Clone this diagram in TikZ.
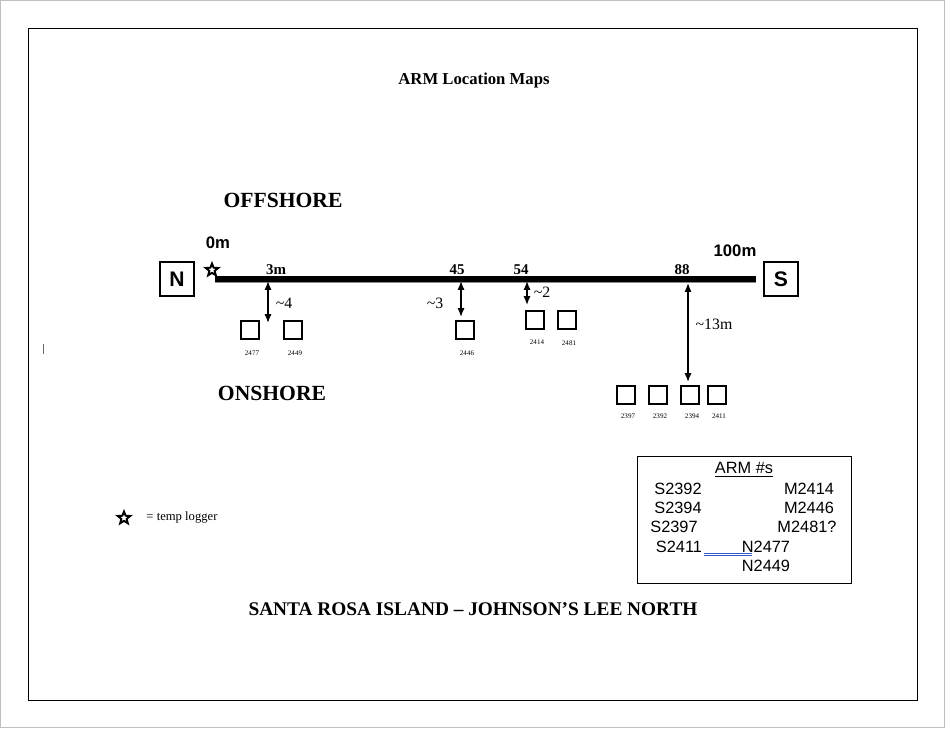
\documentclass[tikz,border=0pt]{standalone}
\usepackage{fontspec}
\setmainfont{Liberation Serif}
\newfontfamily\arial{Liberation Sans}
\usetikzlibrary{arrows.meta, shapes.geometric}
\definecolor{inkblue}{RGB}{50,90,200}

\begin{document}
\begin{tikzpicture}[x=0.02cm, y=-0.02cm,
  dirbox/.style={draw, thick, minimum size=34*0.02cm, inner sep=0pt, font=\arial\bfseries\fontsize{12}{14}\selectfont},
  armbox/.style={draw, semithick, minimum size=18*0.02cm, inner sep=0pt},
  armno/.style={font=\fontsize{4}{5}\selectfont, inner sep=1pt},
  distlbl/.style={font=\fontsize{9}{11}\selectfont, inner sep=1pt},
  poslbl/.style={font=\bfseries\fontsize{8.5}{10}\selectfont, inner sep=1pt},
  logger/.style={draw, line width=1.1pt, star, star points=5, star point ratio=2.3, minimum size=13*0.02cm, inner sep=0pt},
  listtxt/.style={font=\arial\fontsize{9.3}{11}\selectfont, inner sep=1pt},
  spanarrow/.style={thick, {Latex[length=5pt, width=4pt]}-{Latex[length=5pt, width=4pt]}}]
  \useasboundingbox (0,0) rectangle (945,728);
  \draw[black!25] (0.5,0.5) rectangle (944.5,727.5);
  \draw (28,28) rectangle (917,700);
  \draw[black!60] (43,344) -- (43,354);
  % headings
  \node[font=\bfseries\fontsize{9.5}{11}\selectfont] (title) at (474,80) {ARM Location Maps};
  \node[font=\bfseries\fontsize{12.3}{15}\selectfont] (off) at (283,200) {OFFSHORE};
  \node[font=\bfseries\fontsize{12.3}{15}\selectfont] (on) at (272,393) {ONSHORE};
  \node[font=\bfseries\fontsize{11}{13}\selectfont] (site) at (473,609) {SANTA ROSA ISLAND -- JOHNSON'S LEE NORTH};
  % transect
  \node[dirbox] (north) at (177,279) {N};
  \node[dirbox] (south) at (781,279) {S};
  \node[font=\arial\bfseries\fontsize{9.5}{11}\selectfont] (zero) at (218,243) {0m};
  \node[font=\arial\bfseries\fontsize{9.5}{11}\selectfont] (hundred) at (735,251) {100m};
  \node[logger] (star) at (212,270) {};
  \coordinate (start) at (215,279);
  \coordinate (end) at (756,279);
  \draw[line width=3.5pt, black!45] ([yshift=-0.02cm]start) -- ([yshift=-0.02cm]end);
  \draw[line width=3pt] (start) -- (end);
  \node[poslbl] (m3) at (276,270) {3m};
  \node[poslbl] (m45) at (457,270) {45};
  \node[poslbl] (m54) at (521,270) {54};
  \node[poslbl] (m88) at (682,270) {88};
  % offsets
  \coordinate (a1) at (268,281); \coordinate (b1) at (268,323);
  \coordinate (a2) at (461,281); \coordinate (b2) at (461,317);
  \coordinate (a3) at (527,281); \coordinate (b3) at (527,305);
  \coordinate (a4) at (688,283); \coordinate (b4) at (688,382);
  \draw[spanarrow] (a1) -- (b1);
  \draw[spanarrow] (a2) -- (b2);
  \draw[spanarrow] (a3) -- (b3);
  \draw[spanarrow] (a4) -- (b4);
  \node[distlbl] (d1) at (284,303) {\textasciitilde 4};
  \node[distlbl] (d2) at (435,303) {\textasciitilde 3};
  \node[distlbl] (d3) at (542,292) {\textasciitilde 2};
  \node[distlbl] (d4) at (714,324) {\textasciitilde 13m};
  % ARMs
  \foreach \id/\x/\y/\ly in {2477/250/330/353, 2449/293/330/353, 2446/465/330/353,
      2414/535/320/342, 2481/567/320/343, 2397/626/395/416, 2392/658/395/416,
      2394/690/395/416, 2411/717/395/416}{
    \node[armbox] (arm\id) at (\x,\y) {};
    \node[armno] (no\id) at (\x+2,\ly) {\id};
  }
  % legend
  \node[logger] (key) at (124,518) {};
  \node[font=\fontsize{7.2}{9}\selectfont] (keytxt) at (182,517) {= temp logger};
  % list of ARM numbers
  \draw (637,456) rectangle (851,583);
  \node[listtxt] (head) at (744,470) {\underline{ARM \#s}};
  \node[listtxt] (s2392) at (678,489) {S2392};
  \node[listtxt] (m2414) at (809,489) {M2414};
  \node[listtxt] (s2394) at (678,508) {S2394};
  \node[listtxt] (m2446) at (809,508) {M2446};
  \node[listtxt] (s2397) at (674,527) {S2397};
  \node[listtxt] (m2481) at (807,527) {M2481?};
  \node[listtxt] (s2411) at (679,547) {S2411};
  \node[listtxt] (n2477) at (766,547) {N2477};
  \node[listtxt] (n2449) at (766,566) {N2449};
  \draw[inkblue, line width=0.5pt] (704,553) -- (752,553);
  \draw[inkblue, line width=0.5pt] (704,555.5) -- (752,555.5);
\end{tikzpicture}
\end{document}
